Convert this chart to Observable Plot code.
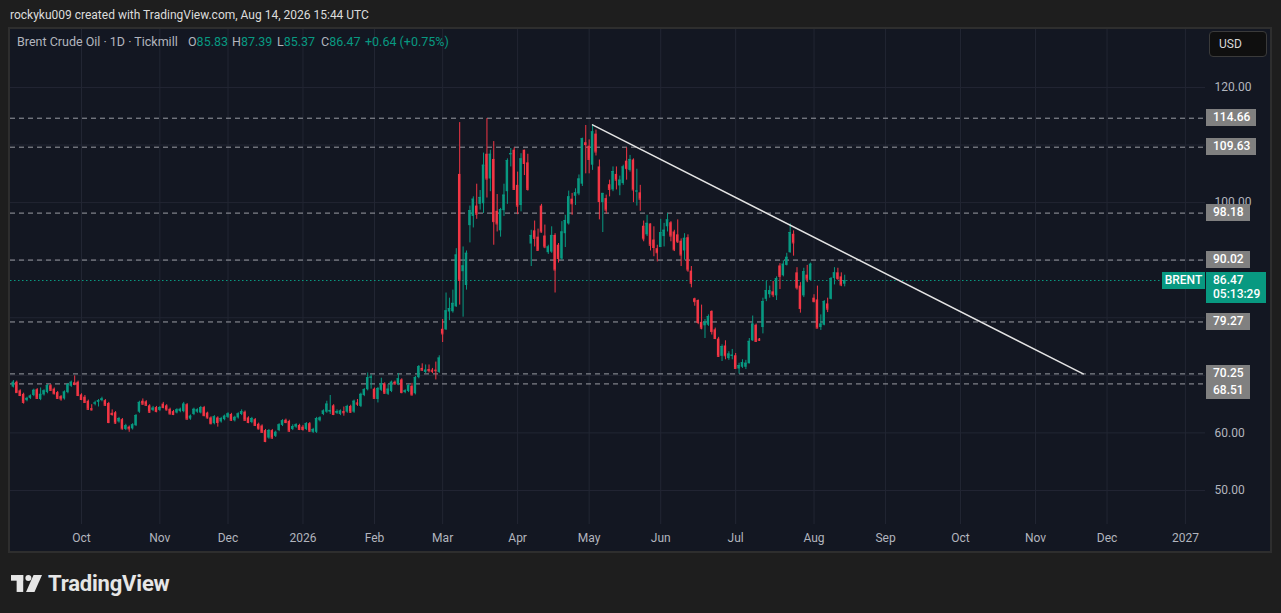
<!DOCTYPE html>
<html><head><meta charset="utf-8">
<script src="https://cdn.jsdelivr.net/npm/d3@7"></script>
<script src="https://cdn.jsdelivr.net/npm/@observablehq/plot@0.6"></script>
<style>
body{margin:0;background:#1e1e1e;width:1281px;height:613px;overflow:hidden;position:relative;font-family:Roboto,"Liberation Sans",sans-serif;}
#hdr{position:absolute;left:10px;top:7px;color:#dcdcdc;font-size:12px;line-height:16px;white-space:nowrap;}
#frame{position:absolute;left:8px;top:27px;width:1264px;height:526px;box-sizing:border-box;border:2px solid #2e2e2e;background:#131722;}
#chart{position:absolute;left:10px;top:29px;}
.lg{position:absolute;top:34px;font-size:12.5px;line-height:16px;color:#b2b5be;white-space:nowrap;}
.lg b{font-weight:normal;color:#089981;}
#usd{position:absolute;left:1209px;top:31px;width:58px;height:26px;box-sizing:border-box;border:1px solid #3a3a3a;border-radius:4px;background:#0f0f0f;color:#d8d8d8;font-size:12px;line-height:24px;padding-left:9px;}
.plab{position:absolute;left:1206px;height:17px;line-height:17px;padding:0 6px 0 7px;background:#808080;color:#fff;font-size:12px;font-weight:500;white-space:nowrap;}
#btag{position:absolute;left:1162px;width:43px;height:17px;line-height:17px;background:#089981;color:#fff;font-size:12px;font-weight:500;text-align:center;}
#bprice{position:absolute;left:1206px;width:60px;height:31px;background:#089981;color:#fff;font-size:12px;font-weight:500;padding-left:7px;box-sizing:border-box;}
#bprice div{height:14px;line-height:14px;}
#foot{position:absolute;left:11px;top:571px;display:flex;align-items:center;color:#e6e6e6;font-size:22px;font-weight:700;letter-spacing:-0.2px;}
</style></head>
<body>
<div id="hdr">rockyku009 created with TradingView.com, Aug 14, 2026 15:44 UTC</div>
<div id="frame"></div>
<div id="chart"></div>
<div class="lg" style="left:17px">Brent Crude Oil · 1D · Tickmill</div>
<div class="lg" style="left:188px">O<b>85.83</b></div>
<div class="lg" style="left:232px">H<b>87.39</b></div>
<div class="lg" style="left:277px">L<b>85.37</b></div>
<div class="lg" style="left:321px">C<b>86.47</b></div>
<div class="lg" style="left:365px"><b>+0.64 (+0.75%)</b></div>
<div id="usd">USD</div>
<div id="foot"><svg width="31" height="17" viewBox="0 0 33 18" style="margin-right:6px"><rect x="0" y="0" width="13" height="6" fill="#e6e6e6"/><rect x="6" y="0" width="7" height="18" fill="#e6e6e6"/><circle cx="18.5" cy="3.2" r="3.2" fill="#e6e6e6"/><polygon points="24,0 33,0 25,18 16,18" fill="#e6e6e6"/></svg><span>TradingView</span></div>
<script>
// Daily candles (weekday index 0 = Sep 3 2025 ... 244 = Aug 14 2026)
const O = [
67.95,68.8,67.3,66.7,65.6,66.0,66.5,67.5,65.8,66.6,
67.0,68.2,67.6,67.0,66.3,65.9,67.0,68.1,68.7,68.8,
66.6,66.2,65.5,64.2,65.0,65.3,65.6,65.6,65.1,63.4,
63.5,61.9,62.3,60.6,61.0,60.7,61.25,63.6,65.5,65.4,
64.7,63.9,64.4,63.9,65.0,64.7,64.1,63.7,63.45,63.7,
63.7,64.9,62.4,63.2,63.6,63.45,64.4,63.45,62.6,61.6,
62.6,61.9,62.3,62.7,63.2,62.1,62.6,63.2,63.6,62.6,
61.8,62.3,61.5,61.2,60.4,59.1,60.4,59.4,60.4,61.3,
62.2,62.0,60.6,61.0,61.3,61.0,60.6,61.6,60.1,60.1,
62.1,63.2,63.6,63.6,64.7,63.4,63.2,63.7,63.6,64.6,
63.6,65.2,64.6,66.5,67.5,69.5,67.6,65.8,67.4,68.5,
66.7,67.2,68.8,68.4,69.2,67.0,67.2,68.1,66.8,69.6,
71.2,70.5,71.0,70.9,70.9,70.5,78.0,77.9,81.0,81.05,
81.9,104.9,88.0,85.6,96.0,97.6,99.4,99.7,99.8,108.4,
104.1,107.5,98.5,95.1,98.6,101.9,108.3,109.1,103.0,99.5,
109.1,106.9,92.8,95.1,94.0,99.4,94.2,91.3,91.4,94.3,
92.6,90.2,94.6,96.3,100.6,101.1,101.5,103.2,110.4,109.8,
106.5,111.9,106.2,100.0,100.7,103.1,102.2,104.9,102.9,103.3,
107.2,105.6,107.4,101.9,101.7,95.9,94.4,96.3,93.5,92.0,
92.2,94.1,95.8,96.5,94.9,94.4,93.3,91.6,93.9,88.1,
83.3,83.0,79.2,78.6,78.7,81.1,77.9,76.3,73.3,75.1,
72.9,73.3,73.4,71.1,71.4,71.4,72.0,76.0,78.7,76.3,
78.3,83.2,84.0,84.5,83.8,89.0,87.3,89.1,91.3,94.5,
87.8,85.5,83.8,87.4,86.5,83.4,83.1,78.3,78.7,82.4,
83.2,86.8,87.8,87.1,85.83];
const H = [
69.1,69.0,67.5,66.9,66.2,66.6,67.6,67.7,67.8,67.5,
68.4,68.4,67.8,67.2,66.5,67.3,68.6,69.0,69.9,69.0,
66.8,66.5,65.7,64.9,65.5,65.8,66.2,65.8,65.3,64.0,
63.7,62.7,62.5,61.5,61.2,61.6,63.2,65.5,65.9,65.6,
64.9,64.6,64.6,64.6,65.3,64.9,64.3,63.9,64.2,64.3,
65.3,65.1,63.1,64.3,64.2,64.6,64.6,63.6,62.8,63.0,
62.8,62.7,63.1,63.5,63.4,62.9,63.5,64.0,63.8,62.8,
62.7,62.5,61.7,61.4,60.6,60.6,60.6,60.3,61.6,62.3,
62.4,62.2,61.4,61.6,61.5,61.3,61.8,61.8,60.8,62.7,
62.8,64.0,65.5,66.5,64.9,64.0,64.0,64.5,64.8,64.8,
65.7,65.8,66.9,67.7,70.4,70.1,67.8,67.9,69.5,68.7,
68.4,69.0,69.0,70.3,69.4,67.5,68.4,68.6,69.8,71.7,
72.0,71.8,71.8,71.2,72.3,73.4,79.7,84.3,83.4,84.8,
92.0,113.9,92.3,91.6,99.4,101.0,103.2,102.1,108.6,114.6,
109.1,110.6,101.4,99.0,103.2,107.6,109.4,109.5,105.3,108.5,
109.1,108.4,95.2,96.8,95.4,99.7,96.1,92.6,95.8,94.6,
92.9,96.7,97.8,102.0,101.6,102.4,104.8,111.2,113.4,110.9,
113.5,112.6,107.4,101.6,101.3,103.9,106.2,106.2,104.6,106.5,
109.5,108.2,107.6,105.8,103.0,96.8,97.8,96.3,95.8,92.6,
97.1,96.4,98.1,96.7,95.2,97.0,93.7,94.6,94.4,88.9,
83.4,83.1,82.2,79.7,80.5,81.2,78.2,76.6,75.3,76.0,
74.1,74.5,73.8,72.1,72.7,72.6,76.4,80.3,78.9,76.4,
83.4,86.3,85.5,86.3,87.1,89.4,89.9,91.2,96.3,95.1,
88.7,86.1,88.6,89.1,89.5,84.0,85.5,80.5,83.0,83.4,
87.0,88.7,88.6,87.8,87.39];
const L = [
67.8,66.9,66.3,65.0,65.4,65.8,66.3,65.8,65.6,66.4,
66.8,67.2,66.6,65.8,65.5,65.7,66.8,67.9,68.2,66.3,
65.6,65.1,63.9,63.8,64.7,64.5,65.4,64.6,61.6,62.9,
61.5,61.7,60.5,60.4,60.1,60.5,61.1,63.4,64.8,64.6,
63.4,63.7,63.5,63.7,64.2,63.8,63.1,63.0,63.3,63.5,
63.5,62.2,62.2,63.0,63.4,63.3,62.8,62.4,61.4,61.4,
61.0,61.7,62.1,62.5,62.0,61.9,62.4,63.0,62.0,61.6,
61.6,61.1,60.5,59.9,58.3,58.9,58.9,59.2,60.2,61.1,
61.6,60.1,60.4,60.8,60.4,60.3,60.4,60.1,59.9,59.9,
61.9,63.0,63.4,63.2,63.0,63.2,63.0,62.9,63.4,63.4,
63.4,64.6,64.4,66.3,67.3,67.6,65.9,65.2,67.2,66.7,
66.5,67.0,68.3,68.2,66.8,66.8,67.0,66.4,66.6,69.4,
70.7,70.3,70.4,70.3,69.2,70.3,75.7,77.8,79.5,80.8,
81.8,82.2,80.1,84.8,93.0,95.6,97.1,98.7,98.1,100.8,
101.9,92.6,94.9,94.0,97.6,99.7,106.2,102.1,97.9,98.4,
104.7,102.0,88.9,92.3,91.7,94.7,92.0,91.0,91.2,84.3,
89.5,90.0,92.2,96.1,97.8,99.5,101.2,102.8,105.0,105.0,
105.6,108.1,97.0,94.8,98.0,101.0,101.9,102.2,101.2,103.0,
103.9,105.3,100.0,99.4,98.5,93.2,94.1,91.6,90.6,89.7,
92.2,92.3,94.9,93.2,91.5,92.9,88.9,90.0,87.9,85.2,
82.0,78.8,77.9,76.4,78.5,77.0,76.2,73.1,72.4,72.7,
72.6,72.7,71.1,70.2,71.2,71.0,72.0,75.9,75.7,75.9,
77.2,82.8,83.4,83.5,83.0,84.9,87.1,89.0,91.2,90.7,
84.8,80.8,83.5,86.1,86.4,82.6,78.2,77.8,78.6,80.9,
83.1,85.7,86.5,85.4,85.37];
const C = [
68.8,67.0,66.5,65.3,66.0,66.4,67.4,66.0,66.7,67.3,
68.2,67.4,66.8,66.0,65.9,67.1,68.4,68.8,68.4,66.5,
65.8,65.3,64.1,64.0,65.2,65.6,65.9,64.8,61.8,63.2,
61.7,62.5,60.7,61.25,60.7,61.4,63.0,65.3,65.0,64.8,
63.6,64.3,63.7,64.4,64.4,64.0,63.3,63.2,64.0,64.1,
65.0,62.4,62.9,64.1,64.0,64.4,63.0,62.6,61.6,62.8,
61.8,62.5,62.9,63.3,62.2,62.7,63.3,63.7,62.2,61.8,
62.5,61.3,60.7,60.1,58.5,60.4,59.1,60.1,61.4,62.1,
61.8,60.3,61.1,61.4,60.6,60.6,61.6,60.3,60.6,62.5,
62.6,63.8,65.0,63.9,63.2,63.7,63.8,63.5,64.6,63.6,
65.5,65.0,66.7,67.5,69.6,69.7,66.0,67.7,68.5,66.9,
67.6,68.8,68.5,69.4,67.0,67.3,68.2,66.6,69.6,71.5,
70.9,70.9,70.8,70.7,70.8,73.0,77.2,81.2,81.6,82.5,
90.9,86.5,89.0,91.2,98.6,100.6,98.0,100.9,106.5,104.1,
108.4,96.7,96.3,98.8,101.3,107.3,108.5,102.3,99.4,107.6,
106.8,102.3,94.3,93.8,91.7,94.9,92.3,92.3,94.3,88.3,
90.3,94.9,96.9,101.0,99.8,101.7,104.1,111.1,110.1,107.5,
112.3,108.8,100.2,101.6,98.7,102.3,105.4,103.9,103.9,106.2,
105.9,107.5,102.2,102.0,100.6,93.7,96.4,92.6,92.2,91.3,
94.8,95.2,97.0,94.2,91.8,93.2,90.9,93.8,88.3,86.0,
82.8,79.2,78.2,79.2,80.2,77.6,76.4,73.3,75.0,73.4,
73.7,73.5,71.2,71.7,72.2,72.1,75.9,78.9,75.9,76.1,
82.8,84.7,84.7,84.0,86.8,87.2,89.3,90.5,94.8,93.0,
85.2,81.6,88.0,86.7,89.3,82.8,78.2,78.9,82.8,81.5,
86.8,87.8,86.8,85.7,86.47];

// horizontal levels drawn on the chart
const levels = [114.66, 109.63, 98.18, 90.02, 79.27, 70.25, 68.51];
const lastPrice = 86.47;
// trendline anchors (bar index, price)
const trendIdx = [170, 314];
const trendPrice = [113.5, 70.25];
// price axis ticks
const yTicks = [50, 60, 70, 80, 90, 100, 110, 120];
// time axis ticks (bar index of first trading day of month) and labels
const tickIdx = [20, 43, 63, 85, 106, 126, 148, 169, 190, 212, 235, 256, 278, 300, 321, 344];
const tickLabels = ["Oct","Nov","Dec","2026","Feb","Mar","Apr","May","Jun","Jul","Aug","Sep","Oct","Nov","Dec","2027"];

const UP = "#089981", DOWN = "#f23645", GRID = "#222633";
const candles = O.map((o, i) => ({i, o, h: H[i], l: L[i], c: C[i], col: C[i] >= o ? UP : DOWN}));
const trend = trendIdx.map((t, k) => ({i: t, p: trendPrice[k]}));
const HW = 0.36;

const plot = Plot.plot({
  width: 1260, height: 522,
  marginLeft: 0, marginRight: 65, marginTop: 0, marginBottom: 27,
  x: {type: "linear", domain: [-0.84, 349.9], axis: null},
  y: {domain: [44.09, 130.07], axis: null},
  style: {background: "transparent", color: "#b2b5be", fontSize: "12px", fontFamily: "Roboto, 'Liberation Sans', sans-serif", overflow: "visible"},
  marks: [
    Plot.ruleY(yTicks, {stroke: GRID, strokeWidth: 1}),
    Plot.ruleX(tickIdx, {stroke: GRID, strokeWidth: 1}),
    Plot.ruleY(levels, {stroke: "#9a9ca3", strokeDasharray: "5,4", strokeWidth: 1}),
    Plot.ruleY([lastPrice], {stroke: UP, strokeDasharray: "1.5,2.5", strokeWidth: 1.2}),
    Plot.ruleX(candles, {x: "i", y1: "l", y2: "h", stroke: "col", strokeWidth: 1}),
    Plot.rect(candles, {x1: d => d.i - HW, x2: d => d.i + HW, y1: "o", y2: "c", fill: "col"}),
    Plot.ruleY(candles, {y: "c", x1: d => d.i - HW, x2: d => d.i + HW, stroke: "col", strokeWidth: 1}),
    Plot.line(trend, {x: "i", y: "p", stroke: "#e4e4e4", strokeWidth: 1.5}),
    Plot.axisY(yTicks, {anchor: "right", tickSize: 0, tickPadding: 9, tickFormat: d => d.toFixed(2), label: null, fill: "#b2b5be"}),
    Plot.axisX(tickIdx, {anchor: "bottom", tickSize: 0, tickPadding: 9, tickFormat: d => tickLabels[tickIdx.indexOf(d)], label: null, fill: "#b2b5be"})
  ]
});
document.getElementById("chart").appendChild(plot);

// price-scale labels
const ys = plot.scale("y");
const TOP = 29;
let prev = -Infinity;
levels.slice().sort((a, b) => b - a).forEach(v => {
  let y = TOP + ys.apply(v);
  if (y - prev < 17) y = prev + 17;
  prev = y;
  const el = document.createElement("div");
  el.className = "plab";
  el.style.top = (y - 8.5) + "px";
  el.textContent = v.toFixed(2);
  document.body.appendChild(el);
});
const yb = TOP + ys.apply(lastPrice);
const tag = document.createElement("div");
tag.id = "btag"; tag.textContent = "BRENT"; tag.style.top = (yb - 8.5) + "px";
document.body.appendChild(tag);
const bp = document.createElement("div");
bp.id = "bprice"; bp.style.top = (yb - 8.5) + "px";
bp.innerHTML = "<div style='margin-top:1.5px'>" + lastPrice.toFixed(2) + "</div><div>05:13:29</div>";
document.body.appendChild(bp);
</script>
</body></html>
